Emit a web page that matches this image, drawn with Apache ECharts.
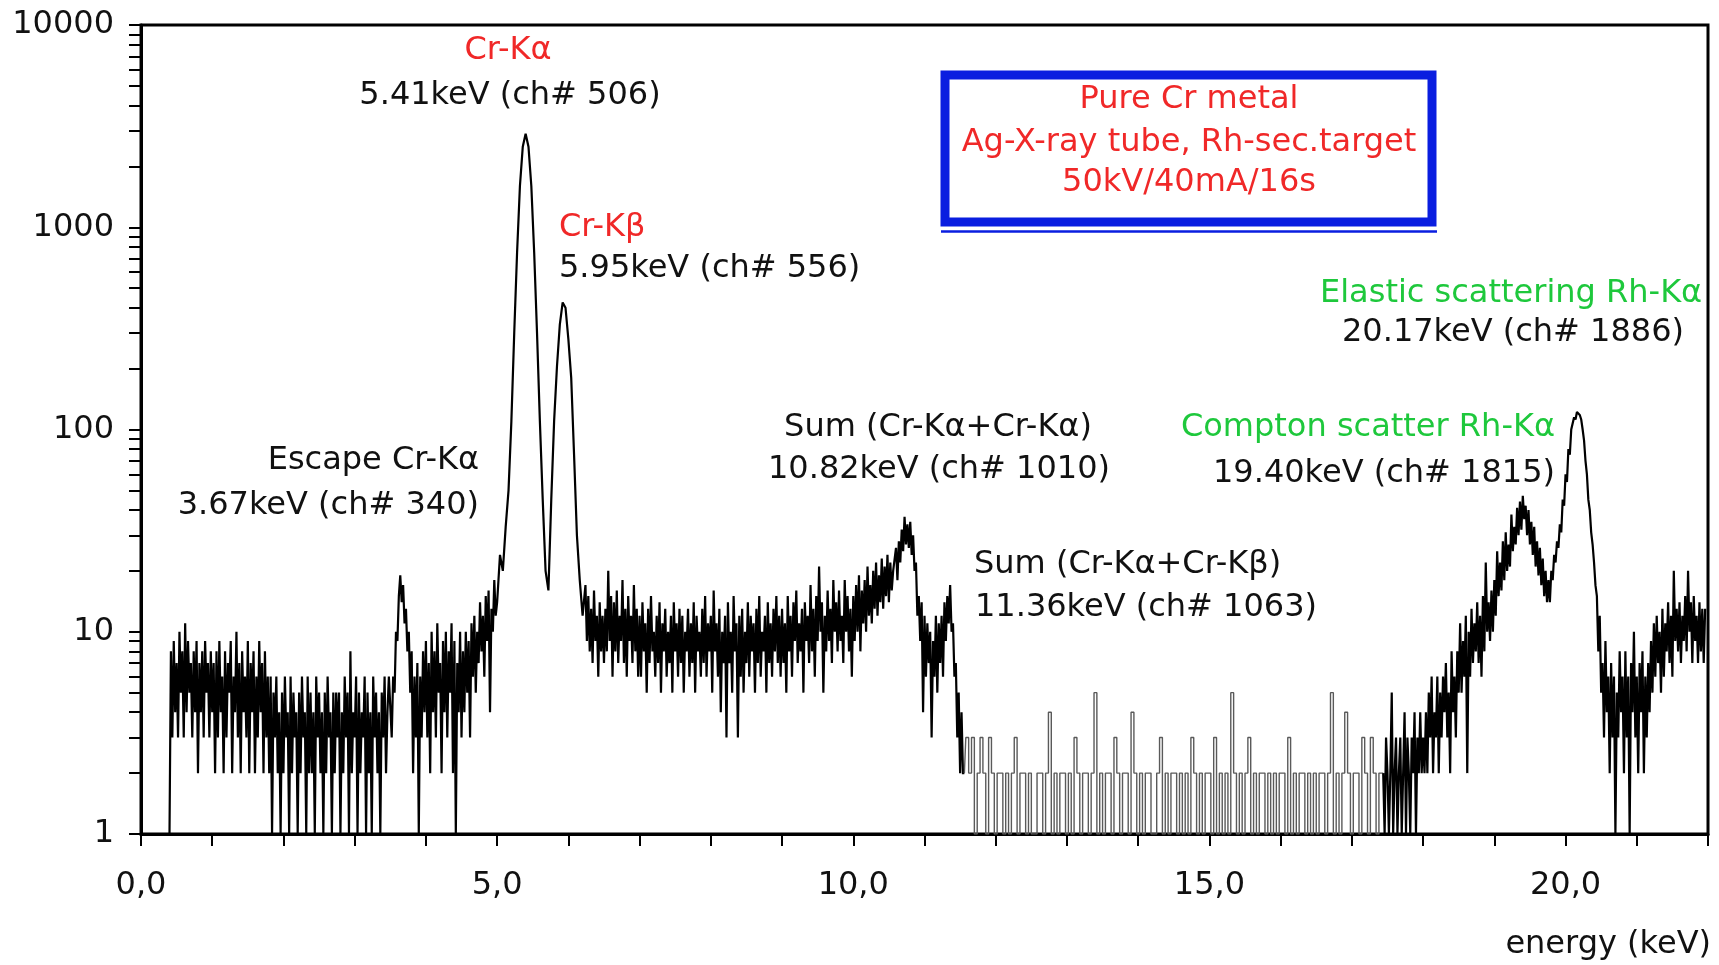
<!DOCTYPE html>
<html lang="en">
<head>
    <meta charset="UTF-8">
    <title>Pure Cr metal - EDXRF spectrum</title>
    <script type="text/javascript" src="https://cdn.jsdelivr.net/npm/echarts@6/dist/echarts.min.js"></script>
    <style>
        html, body { margin: 0; padding: 0; background: #fff; }
        #spectrum { width: 1719px; height: 965px; }
    </style>
</head>
<body>
<div id="spectrum"></div>

<script>
    // counts
    // noisy parts every 0.02 keV, peaks and empty part every 0.04 keV

    // 0.40 - 3.48 keV, step 0.02
    var countsLow = [
        1, 8, 3, 9, 4, 7, 3, 10, 5, 8, 3, 11, 4, 9, 5, 7, 3, 8, 4, 9, 2, 7, 4, 8, 3, 9, 5, 7, 3, 8,
        4, 7, 2, 8, 3, 9, 4, 6, 2, 8, 3, 7, 5, 9, 2, 6, 4, 10, 3, 7,
        2, 8, 4, 6, 3, 9, 2, 7, 4, 8, 2, 6, 3, 9, 4, 7, 2, 8, 3, 6,
        2, 6, 1, 5, 3, 6, 2, 4, 1, 5, 2, 6, 3, 4, 1, 6, 2, 5, 3, 4,
        1, 5, 2, 6, 3, 4, 1, 6, 2, 5, 2, 4, 1, 6, 3, 5, 2, 4, 1, 5,
        2, 6, 3, 4, 1, 5, 2, 5, 3, 5, 1, 4, 2, 6, 3, 5, 1, 8, 2, 4,
        3, 6, 1, 5, 2, 4, 3, 6, 1, 5, 2, 4, 1, 6, 3, 5, 2, 4, 1, 5,
        3, 6, 2, 4, 6
    ];
    // 3.52 - 4.98 keV, step 0.02 : escape peak and Ka foot
    var countsEscape = [
        3, 6, 5, 10, 9, 15, 19, 14, 17, 11, 13, 8, 10, 5, 8, 2, 6, 3, 7, 1, 6, 3, 8, 4,
        9, 3, 7, 2, 10, 4, 8, 3, 11, 5, 7, 2, 9, 4, 10, 3, 8, 5, 11, 2, 9, 1, 7, 4, 10, 3,
        8, 4, 10, 5, 9, 3, 11, 6, 12, 5, 10, 7, 14, 8, 12, 6, 15, 9, 16, 4, 13, 10, 18, 12
    ];
    // 5.00 - 6.20 keV, step 0.04 : Cr-Ka, Cr-Kb
    var countsKa = [
        14, 24, 20, 33, 50, 110, 300, 750, 1600, 2500, 2900, 2500, 1600, 750, 300, 110,
        45, 20, 16, 45, 110, 205, 330, 425, 400, 280, 180, 75, 30, 18, 12
    ];
    // 6.24 - 10.56 keV, step 0.02 : bremsstrahlung plateau
    var countsMid = [
        17, 9, 15, 8, 13, 7, 16, 9, 12, 6, 14, 8, 12, 7,
        13, 8, 20, 9, 15, 6, 14, 8, 16, 7, 12, 9, 18, 7, 13, 6, 15, 9, 12, 7, 17, 8, 13, 6,
        12, 6, 14, 8, 11, 5, 13, 7, 15, 8, 10, 6, 12, 7, 14, 5, 11, 8, 13, 6,
        10, 7, 12, 5, 14, 8, 11, 6, 13, 7, 12, 5, 10, 8, 13, 6, 11, 7, 14, 5,
        12, 8, 10, 6, 13, 7, 15, 6, 11, 8,
        12, 5, 16, 8, 11, 6, 13, 4, 10, 7, 12, 3, 14, 7, 10, 5, 15, 8, 11, 3,
        12, 6, 13, 5, 10, 7, 14, 6, 12, 8, 11, 5, 13, 7, 15, 6, 10, 8, 12, 5,
        14, 7, 11, 6, 13, 8, 15, 7, 12, 6,
        13, 7, 11, 5, 15, 8, 12, 6, 14, 9, 16, 7, 11, 8, 13, 5, 14, 9, 12, 7,
        17, 8, 13, 6, 15, 9, 21, 10, 14, 5, 12, 8, 16, 9, 13, 7, 18, 10, 14, 8,
        16, 9, 12, 7, 18, 10, 15, 8, 13, 6,
        15, 9, 17, 10, 19, 8, 16, 11, 18, 10, 21, 12, 17, 11, 20, 13, 22, 12, 19, 14,
        23, 13, 21, 15, 24, 14, 22, 16, 20
    ];
    // 10.60 - 11.56 keV, step 0.02 : sum peaks
    var countsSum = [
        26, 18, 28, 22, 32, 25, 37, 27, 34, 26,
        35, 24, 30, 20, 22, 12, 15, 9, 14, 4,
        12, 6, 11, 7, 10, 3, 9, 6, 12, 5,
        11, 7, 12, 6, 14, 9, 15, 11, 17, 10,
        11, 6, 7, 3, 5, 2, 4, 2, 2
    ];
    // 11.60 - 17.40 keV, step 0.04 : almost empty channels
    var countsFlat = [
        3, 2, 3, 1, 2, 3, 2, 1, 3, 2,
        1, 2, 2, 1, 2, 1, 2, 3, 1, 2,
        2, 1, 2, 1, 1, 2, 2, 1, 2, 4,
        1, 2, 1, 2, 2, 1, 2, 1, 3, 2,
        1, 2, 2, 1, 2, 5, 1, 2, 1, 2,
        2, 1, 3, 2, 1, 2, 2, 1, 4, 2,
        1, 2, 1, 2, 2, 1, 1, 2, 3, 1,
        2, 1, 2, 2, 1, 2, 1, 2, 1, 3,
        2, 1, 2, 1, 2, 2, 1, 3, 1, 2,
        1, 2, 1, 5, 2, 1, 2, 1, 2, 3,
        1, 2, 1, 2, 2, 1, 2, 1, 2, 1,
        2, 2, 1, 3, 1, 2, 1, 2, 2, 1,
        2, 1, 2, 1, 2, 2, 1, 2, 5, 1,
        2, 1, 2, 4, 2, 1, 2, 2, 1, 3,
        2, 1, 3, 2, 1, 2
    ];
    // 17.44 - 21.96 keV, step 0.02 : Compton and elastic Rh-Ka
    var countsRh = [
        2, 1, 3, 2, 1, 2, 5, 1, 2, 3, 1, 2, 3, 1, 2, 4, 1, 3, 2, 1, 3, 2, 4, 1, 3, 2, 4, 2,
        3, 2, 4, 2, 5, 3, 6, 2, 4, 3, 6, 2, 5, 3, 6, 4, 7, 3, 5, 2, 8, 4, 6, 3, 8, 5,
        11, 5, 9, 6, 12, 2, 10, 6, 13, 7, 11, 8, 14, 7, 12, 6, 15, 8, 22, 10, 14, 9, 16, 10,
        18, 12, 25, 15, 22, 16, 28, 18, 31, 20, 27, 21, 38, 25, 33, 27, 41, 30, 44, 32, 47, 36,
        42, 30, 40, 27, 35, 24, 33, 21, 28, 19, 26, 17, 23, 15, 20, 14, 18, 14,
        20, 18, 24, 22, 28, 26, 34, 31, 45, 42, 60, 55, 80, 75, 100, 98, 115, 112, 122, 120,
        118, 112, 100, 88, 70, 60, 45, 40, 31, 27, 22, 17, 15, 8, 12, 5,
        7, 3, 9, 4, 6, 2, 7, 3, 6, 1, 5, 3, 8, 4, 6, 2, 8, 3, 6, 1,
        7, 4, 10, 3, 6, 2, 7, 4, 8, 2, 6, 3, 7, 4,
        9, 5, 11, 6, 12, 7, 10, 5, 13, 6, 11, 8, 14, 7, 12, 6, 20, 9, 13, 8,
        14, 7, 12, 9, 15, 8, 20, 10, 14, 7, 15, 9, 12, 7, 14, 8, 13, 7, 13
    ];

    var xLabels = [0, 5, 10, 15, 20];
    var yTickValues = [];
    [1, 10, 100, 1000].forEach(function (d) {
        for (var k = 1; k < 10; k++) yTickValues.push(k * d);
    });
    yTickValues.push(10000);

    function build(start, step, arr) {
        return arr.map(function (c, i) {
            return [+(start + i * step).toFixed(2), c];
        });
    }

    var dataA = [].concat(
        build(0.40, 0.02, countsLow),
        build(3.52, 0.02, countsEscape),
        build(5.00, 0.04, countsKa),
        build(6.24, 0.02, countsMid),
        build(10.60, 0.02, countsSum));
    var dataRh = build(17.44, 0.02, countsRh);
    var dataFlat = [dataA[dataA.length - 1]].concat(build(11.60, 0.04, countsFlat), [dataRh[0]]);

    var FONT = '32px "DejaVu Sans"';
    var RED = '#f02828', GREEN = '#1ec83c', INK = '#111';

    function txt(x, y, s, color, align) {
        return {
            type: 'text', x: x, y: y, silent: true, z: 10,
            style: { text: s, font: FONT, fill: color, align: align || 'left', verticalAlign: 'middle' }
        };
    }

    var myChart = echarts.init(document.getElementById('spectrum'));

    var option = {
        animation: false,
        grid: {
            left: 141, right: 11, top: 25, bottom: 131,
            show: true, borderColor: '#000', borderWidth: 3, backgroundColor: 'transparent'
        },
        xAxis: {
            type: 'value', min: 0, max: 22, interval: 1,
            axisLine: { onZero: false, lineStyle: { color: '#000', width: 3 } },
            axisTick: { length: 12, lineStyle: { color: '#000', width: 2 } },
            splitLine: { show: false },
            axisLabel: {
                margin: 36, color: INK, fontSize: 32, fontFamily: 'DejaVu Sans',
                formatter: function (v) {
                    return xLabels.indexOf(v) >= 0 ? v.toFixed(1).replace('.', ',') : '';
                }
            }
        },
        yAxis: [{
            type: 'log', logBase: 10, min: 1, max: 10000, position: 'left',
            axisLine: { show: true, lineStyle: { color: '#000', width: 3 } },
            axisTick: { show: false },
            splitLine: { show: false },
            axisLabel: {
                margin: 27, color: INK, fontSize: 32, fontFamily: 'DejaVu Sans',
                formatter: function (v) { return String(Math.round(v)); }
            }
        }, {
            // tick marks only, 1..9 per decade
            type: 'value', min: 0, max: 4, position: 'left',
            axisLine: { show: false },
            axisLabel: { show: false },
            splitLine: { show: false },
            axisTick: {
                show: true, length: 12, lineStyle: { color: '#000', width: 2 },
                customValues: yTickValues.map(function (v) { return Math.log10(v); })
            }
        }],
        series: [{
            type: 'line', data: dataA, showSymbol: false, silent: true, sampling: null,
            lineStyle: { color: '#000', width: 2.2, join: 'miter', miterLimit: 2 }
        }, {
            type: 'line', data: dataFlat, step: 'middle', showSymbol: false, silent: true,
            lineStyle: { color: '#5a5a5a', width: 1.4 }
        }, {
            type: 'line', data: dataRh, showSymbol: false, silent: true, sampling: null,
            lineStyle: { color: '#000', width: 2.2, join: 'miter', miterLimit: 2 }
        }],
        graphic: [
            txt(508, 51, 'Cr-K\u03b1', RED, 'center'),
            txt(510, 96, '5.41keV (ch# 506)', INK, 'center'),
            txt(559, 228, 'Cr-K\u03b2', RED),
            txt(559, 269, '5.95keV (ch# 556)', INK),
            txt(479, 461, 'Escape Cr-K\u03b1', INK, 'right'),
            txt(479, 506, '3.67keV (ch# 340)', INK, 'right'),
            txt(938, 428, 'Sum (Cr-K\u03b1+Cr-K\u03b1)', INK, 'center'),
            txt(939, 470, '10.82keV (ch# 1010)', INK, 'center'),
            txt(974, 565, 'Sum (Cr-K\u03b1+Cr-K\u03b2)', INK),
            txt(975, 608, '11.36keV (ch# 1063)', INK),
            txt(1555, 428, 'Compton scatter Rh-K\u03b1', GREEN, 'right'),
            txt(1555, 474, '19.40keV (ch# 1815)', INK, 'right'),
            txt(1320, 294, 'Elastic scattering Rh-K\u03b1', GREEN),
            txt(1513, 333, '20.17keV (ch# 1886)', INK, 'center'),
            {
                type: 'rect', silent: true, z: 9,
                shape: { x: 945, y: 75, width: 487, height: 147 },
                style: { fill: '#fff', stroke: '#0a1ee0', lineWidth: 9 }
            },
            {
                type: 'line', silent: true, z: 9,
                shape: { x1: 941, y1: 231.5, x2: 1437, y2: 231.5 },
                style: { stroke: '#0a1ee0', lineWidth: 2.5 }
            },
            txt(1189, 100, 'Pure Cr metal', RED, 'center'),
            txt(1189, 143, 'Ag-X-ray tube, Rh-sec.target', RED, 'center'),
            txt(1189, 183, '50kV/40mA/16s', RED, 'center'),
            txt(1711, 945, 'energy (keV)', INK, 'right')
        ]
    };

    myChart.setOption(option);
</script>
</body>
</html>
